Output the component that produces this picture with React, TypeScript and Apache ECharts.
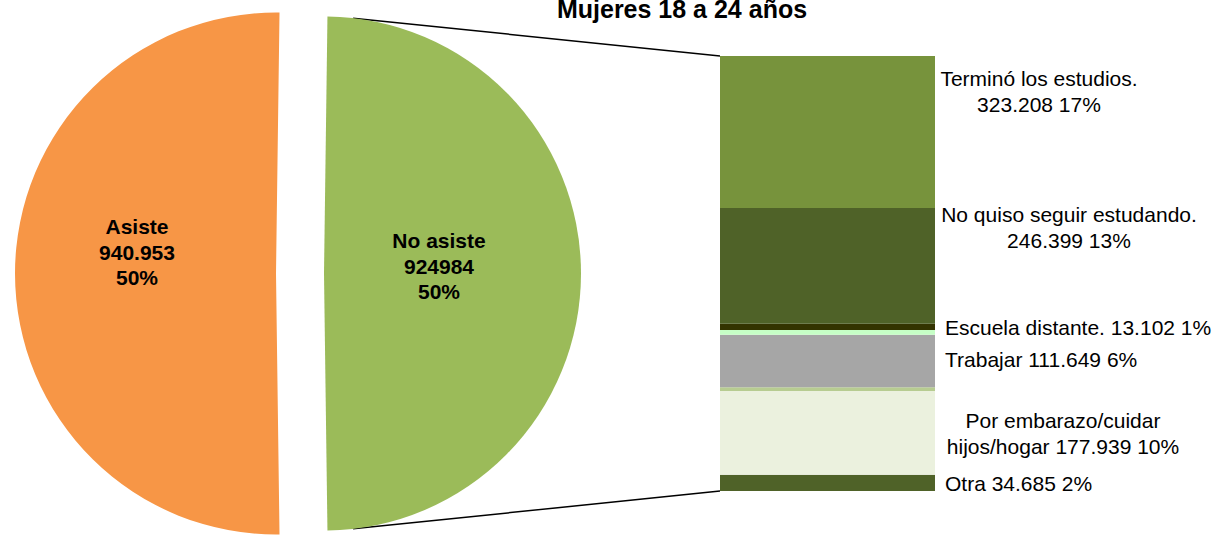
import React, { useEffect, useRef } from "react";
import * as echarts from "echarts";

// ---- Data ----
const titleText = "Mujeres 18 a 24 años";

const pieNames = ["Asiste", "No asiste"];
const pieValues = [940953, 924984];
const pieValueLabels = ["940.953", "924984"];
const piePercentLabels = ["50%", "50%"];
const pieColors = ["#F79646", "#9BBB59"];

// Bar of "No asiste", listed top to bottom
const barNames = [
  "Terminó los estudios.",
  "No quiso seguir estudando.",
  "Escuela distante.",
  "",
  "Trabajar",
  "",
  "Por embarazo/cuidar\nhijos/hogar",
  "Otra",
];
const barValues = [323208, 246399, 13102, 10000, 111649, 8000, 177939, 34685];
const barColors = ["#77933C", "#4F6228", "#333300", "#C6FFC6", "#A6A6A6", "#B7CC91", "#EBF1DE", "#4F6228"];
const barValueLabels = ["323.208", "246.399", "13.102", "", "111.649", "", "177.939", "34.685"];
const barPercentLabels = ["17%", "13%", "1%", "", "6%", "", "10%", "2%"];

// ---- Layout (styles) ----
const FONT = "'Liberation Sans', Arial, sans-serif";
const orange = { cx: 276, cy: 273.5, r: 261 };
const green = { cx: 324, cy: 273.5, r: 257 };
const grid = { left: 720, top: 56, width: 215, height: 435 };
// label anchor relative to segment top-left, align, separator between name and value
const labelLayout: { x: number; y: number; align: string; sep: string }[] = [
  { x: 319, y: 35, align: "center", sep: "\n" },
  { x: 349, y: 20, align: "center", sep: "\n" },
  { x: 225, y: 4, align: "left", sep: " " },
  { x: 0, y: 0, align: "left", sep: "" },
  { x: 225, y: 25, align: "left", sep: " " },
  { x: 0, y: 0, align: "left", sep: "" },
  { x: 343, y: 42, align: "center", sep: " " },
  { x: 225, y: 9, align: "left", sep: " " },
];

export default function App() {
  const ref = useRef<HTMLDivElement>(null);

  useEffect(() => {
    if (!ref.current) return;
    const chart = echarts.init(ref.current, undefined, { renderer: "svg" });

    const pieTotal = pieValues[0] + pieValues[1];
    const startAngle = (360 * pieValues[1]) / pieTotal / 2;

    const makePie = (visibleIdx: number, geo: { cx: number; cy: number; r: number }, shift: { dx: number; dy: number }) => ({
      type: "pie",
      center: [geo.cx, geo.cy],
      radius: geo.r,
      startAngle,
      clockwise: true,
      silent: true,
      animation: false,
      emphasis: { disabled: true },
      labelLine: { show: false },
      labelLayout: shift,
      data: [1, 0].map((i) => ({
        name: pieNames[i],
        value: pieValues[i],
        itemStyle: { color: i === visibleIdx ? pieColors[i] : "rgba(0,0,0,0)" },
        label: {
          show: i === visibleIdx,
          position: "inside",
          formatter: `${pieNames[i]}\n${pieValueLabels[i]}\n${piePercentLabels[i]}`,
          fontFamily: FONT,
          fontWeight: "bold",
          fontSize: 21,
          lineHeight: 25.5,
          color: "#000",
          align: "center",
        },
      })),
    });

    const barTotal = barValues.reduce((a, b) => a + b, 0);
    const order = barValues.map((_, i) => i).reverse(); // bottom first for stacking
    const barSeries = order.map((i) => {
      const lay = labelLayout[i];
      const text = barNames[i]
        ? `${barNames[i]}${lay.sep}${barValueLabels[i]} ${barPercentLabels[i]}`
        : "";
      return {
        type: "bar",
        name: barNames[i] || `seg${i}`,
        stack: "total",
        barWidth: "100%",
        barCategoryGap: 0,
        silent: true,
        data: [barValues[i]],
        itemStyle: { color: barColors[i] },
        label: {
          show: !!text,
          position: [lay.x, lay.y],
          align: lay.align,
          verticalAlign: "middle",
          formatter: text,
          fontFamily: FONT,
          fontSize: 21,
          lineHeight: 26,
          color: "#000",
        },
      };
    });

    // connector lines from the green half to the bar corners
    const ang = (83.5 * Math.PI) / 180;
    const px = green.cx + green.r * Math.cos(ang);
    const pyTop = green.cy - green.r * Math.sin(ang);
    const pyBot = green.cy + green.r * Math.sin(ang);

    chart.setOption({
      animation: false,
      backgroundColor: "#fff",
      title: {
        text: titleText,
        left: 677,
        top: -9,
        textAlign: "center",
        textStyle: { fontFamily: FONT, fontWeight: "bold", fontSize: 25, color: "#000" },
      },
      grid: { left: grid.left, top: grid.top, width: grid.width, height: grid.height },
      xAxis: { type: "category", data: ["No asiste"], show: false },
      yAxis: { type: "value", min: 0, max: barTotal, show: false },
      series: [
        makePie(0, orange, { dx: -5.5, dy: -21.5 }),
        makePie(1, green, { dx: -16.5, dy: -7.5 }),
        ...barSeries,
      ],
      graphic: [
        {
          type: "line",
          shape: { x1: px, y1: pyTop, x2: grid.left, y2: grid.top },
          style: { stroke: "#000", lineWidth: 1.5 },
          silent: true,
        },
        {
          type: "line",
          shape: { x1: px, y1: pyBot, x2: grid.left, y2: grid.top + grid.height },
          style: { stroke: "#000", lineWidth: 1.5 },
          silent: true,
        },
      ],
    });

    return () => chart.dispose();
  }, []);

  return (
    <div
      ref={ref}
      style={{ position: "fixed", left: 0, top: 0, width: 1230, height: 540, background: "#fff" }}
    />
  );
}
